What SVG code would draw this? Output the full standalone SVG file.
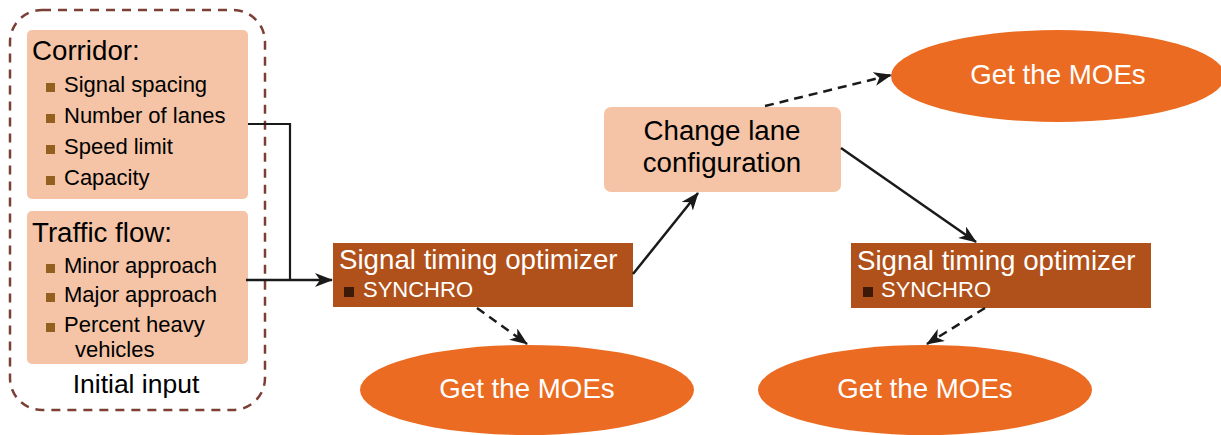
<svg xmlns="http://www.w3.org/2000/svg" width="1221" height="435" viewBox="0 0 1221 435">
  <style>
    text { font-family: "Liberation Sans", Arial, sans-serif; }
    .peach { fill: #F5C4A6; }
    .brown { fill: #B0501A; }
    .oval { fill: #EB6B22; }
    .dark { fill: #000000; }
    .light { fill: #FFFFFF; }
    .head { font-size: 27.7px; }
    .item { font-size: 22px; }
    .sub { font-size: 22px; }
    .moe { font-size: 27.7px; text-anchor: middle; }
    .bul { fill: #93601F; }
    .bul2 { fill: #3D1A08; }
    .wire { fill: none; stroke: #1A1A1A; stroke-width: 2.5; }
    .thin { fill: none; stroke: #1A1A1A; stroke-width: 2.2; }
    .dash { stroke-dasharray: 9 6; }
  </style>
  <defs>
    <marker id="arrow" viewBox="0 0 18 14" refX="17" refY="7" markerWidth="18" markerHeight="14" markerUnits="userSpaceOnUse" orient="auto">
      <path d="M0,0 L18,7 L0,14 L5,7 Z" fill="#1A1A1A"/>
    </marker>
  </defs>

  <!-- input group frame -->
  <g id="initial-input">
    <rect x="10" y="10" width="255" height="400" rx="32" ry="32" fill="none" stroke="#7B3F35" stroke-width="2.5" stroke-dasharray="9 7"/>
    <text x="136" y="393" class="dark" text-anchor="middle" font-size="26.5">Initial input</text>
  </g>

  <g id="corridor">
    <rect x="27" y="30" width="221" height="169" rx="5" class="peach"/>
    <text x="32" y="60" class="head dark">Corridor:</text>
    <rect x="46" y="83" width="9" height="9" class="bul"/>
    <text x="64" y="92" class="item dark">Signal spacing</text>
    <rect x="46" y="114" width="9" height="9" class="bul"/>
    <text x="64" y="123" class="item dark">Number of lanes</text>
    <rect x="46" y="145" width="9" height="9" class="bul"/>
    <text x="64" y="154" class="item dark">Speed limit</text>
    <rect x="46" y="176" width="9" height="9" class="bul"/>
    <text x="64" y="185" class="item dark">Capacity</text>
  </g>

  <g id="traffic-flow">
    <rect x="27" y="211" width="221" height="153" rx="5" class="peach"/>
    <text x="32" y="242" class="head dark">Traffic flow:</text>
    <rect x="46" y="264" width="9" height="9" class="bul"/>
    <text x="64" y="273" class="item dark">Minor approach</text>
    <rect x="46" y="293" width="9" height="9" class="bul"/>
    <text x="64" y="302" class="item dark">Major approach</text>
    <rect x="46" y="323" width="9" height="9" class="bul"/>
    <text x="64" y="332" class="item dark">Percent heavy</text>
    <text x="75" y="357" class="item dark">vehicles</text>
  </g>

  <g id="optimizer-1">
    <rect x="333" y="243" width="300" height="64" class="brown"/>
    <text x="339" y="269" class="head light">Signal timing optimizer</text>
    <rect x="344" y="287" width="10" height="10" class="bul2"/>
    <text x="363" y="297" class="sub light">SYNCHRO</text>
  </g>

  <g id="moe-1">
    <ellipse cx="527" cy="390" rx="167" ry="45" class="oval"/>
    <text x="527" y="398" class="moe light">Get the MOEs</text>
  </g>

  <g id="change-lane">
    <rect x="604" y="107" width="237" height="85" rx="7" class="peach"/>
    <text x="722" y="140" class="head dark" text-anchor="middle">Change lane</text>
    <text x="722" y="172" class="head dark" text-anchor="middle">configuration</text>
  </g>

  <g id="moe-2">
    <ellipse cx="1058" cy="76" rx="167" ry="46" class="oval"/>
    <text x="1058" y="84" class="moe light">Get the MOEs</text>
  </g>

  <g id="optimizer-2">
    <rect x="851" y="243" width="300" height="65" class="brown"/>
    <text x="857" y="270" class="head light">Signal timing optimizer</text>
    <rect x="863" y="287" width="10" height="10" class="bul2"/>
    <text x="881" y="297" class="sub light">SYNCHRO</text>
  </g>

  <g id="moe-3">
    <ellipse cx="925" cy="390" rx="167" ry="45" class="oval"/>
    <text x="925" y="398" class="moe light">Get the MOEs</text>
  </g>

  <g id="connectors">
    <polyline class="thin" points="248,124 290,124 290,280"/>
    <line class="wire" x1="246" y1="280" x2="332" y2="280" marker-end="url(#arrow)"/>
    <line class="wire dash" x1="477" y1="308" x2="527" y2="344" marker-end="url(#arrow)"/>
    <line class="wire" x1="633" y1="274" x2="698" y2="193" marker-end="url(#arrow)"/>
    <line class="wire dash" x1="765" y1="106" x2="891" y2="75" marker-end="url(#arrow)"/>
    <line class="wire" x1="841" y1="148" x2="976" y2="242" marker-end="url(#arrow)"/>
    <line class="wire dash" x1="985" y1="308" x2="927" y2="344" marker-end="url(#arrow)"/>
  </g>
</svg>
